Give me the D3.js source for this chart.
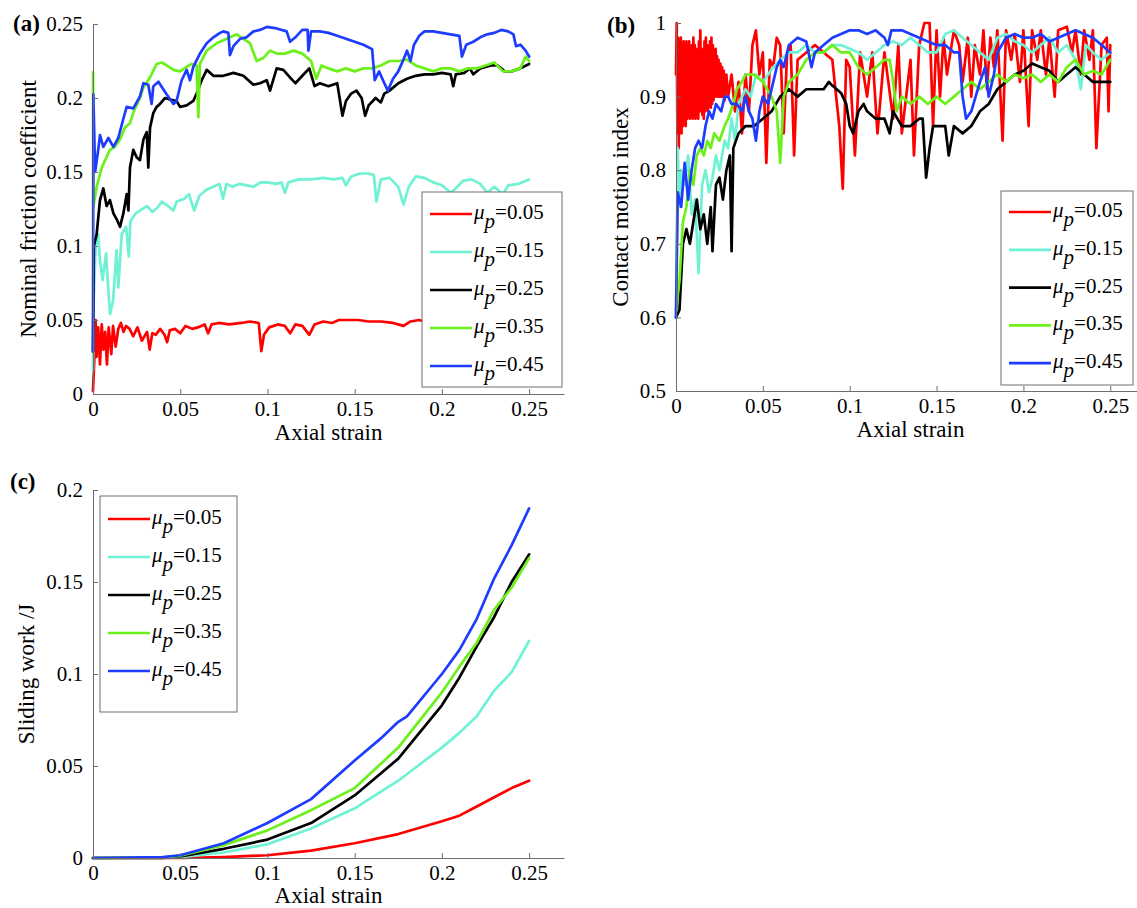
<!DOCTYPE html>
<html lang="en">
<head>
<meta charset="utf-8">
<title>Friction, contact motion and sliding work versus axial strain</title>
<script src="https://d3js.org/d3.v7.min.js"></script>
<style>
    html, body { margin: 0; padding: 0; background: #fff; }
    svg { display: block; }
    svg text { font-family: "Liberation Serif", "Times New Roman", Times, "DejaVu Serif", serif; }
    .axis path, .axis line { stroke: #6e6e6e; stroke-width: 1px; }
    .axis text { fill: #000; font-size: 21px; }
    .title { font-size: 23px; fill: #000; }
    .tag { font-size: 23px; font-weight: bold; fill: #000; }
    .legend text { font-size: 21px; fill: #000; }
    .curve { fill: none; stroke-width: 2.7px; stroke-linejoin: round; stroke-linecap: round; }
</style>
</head>
<body>
<script>
    // ---------- shared ----------
    var legendLabels = ["0.05", "0.15", "0.25", "0.35", "0.45"];
    var seriesColors = ["#ff0000", "#6ff2d4", "#000000", "#6cf01a", "#1e3cff"];
    var xTicks = [0, 0.05, 0.1, 0.15, 0.2, 0.25];
    var yTicksA = [0, 0.05, 0.1, 0.15, 0.2, 0.25];
    var yTicksB = [0.5, 0.6, 0.7, 0.8, 0.9, 1];
    var yTicksC = [0, 0.05, 0.1, 0.15, 0.2];

    // ---------- (a) nominal friction coefficient, [axial strain, value] ----------
    var fricMu005 = [[0,0.002],[0.001,0.03],[0.0015,0.05],[0.002,0.025],[0.003,0.045],[0.004,0.02],[0.005,0.047],[0.006,0.03],[0.007,0.042],[0.008,0.02],[0.009,0.045],[0.0105,0.027],[0.0115,0.046],[0.013,0.032],[0.0145,0.044],[0.016,0.048],[0.0175,0.042],[0.019,0.046],[0.021,0.044],[0.023,0.039],[0.0255,0.045],[0.028,0.036],[0.031,0.042],[0.0325,0.03],[0.034,0.041],[0.036,0.04],[0.0385,0.044],[0.041,0.04],[0.0425,0.035],[0.044,0.043],[0.047,0.044],[0.05,0.041],[0.053,0.046],[0.057,0.044],[0.06,0.045],[0.064,0.047],[0.066,0.041],[0.068,0.047],[0.072,0.048],[0.078,0.047],[0.085,0.048],[0.09,0.049],[0.095,0.048],[0.0965,0.029],[0.098,0.04],[0.101,0.045],[0.106,0.047],[0.11,0.046],[0.113,0.041],[0.116,0.047],[0.12,0.046],[0.124,0.04],[0.127,0.047],[0.132,0.049],[0.137,0.048],[0.141,0.05],[0.146,0.05],[0.152,0.05],[0.158,0.049],[0.165,0.049],[0.172,0.048],[0.178,0.046],[0.182,0.049],[0.187,0.05],[0.193,0.048],[0.2,0.049],[0.21,0.049],[0.22,0.05],[0.23,0.049],[0.24,0.05],[0.25,0.05]];
    var fricMu015 = [[0,0.016],[0.0003,0.06],[0.0015,0.1],[0.003,0.108],[0.004,0.09],[0.0055,0.077],[0.0075,0.095],[0.0085,0.075],[0.0098,0.054],[0.0115,0.063],[0.0135,0.097],[0.0145,0.072],[0.0165,0.108],[0.019,0.113],[0.0205,0.093],[0.0215,0.117],[0.0245,0.122],[0.027,0.124],[0.031,0.127],[0.034,0.123],[0.037,0.126],[0.0395,0.13],[0.043,0.127],[0.046,0.124],[0.048,0.13],[0.0525,0.132],[0.055,0.135],[0.058,0.124],[0.061,0.134],[0.065,0.138],[0.069,0.14],[0.0725,0.142],[0.0745,0.132],[0.0765,0.142],[0.08,0.14],[0.084,0.142],[0.088,0.141],[0.092,0.14],[0.096,0.143],[0.1,0.143],[0.105,0.142],[0.108,0.143],[0.11,0.136],[0.112,0.143],[0.118,0.145],[0.125,0.145],[0.132,0.146],[0.138,0.145],[0.143,0.146],[0.145,0.141],[0.148,0.147],[0.153,0.149],[0.158,0.149],[0.161,0.148],[0.1625,0.13],[0.165,0.145],[0.17,0.146],[0.175,0.14],[0.178,0.128],[0.181,0.14],[0.185,0.147],[0.19,0.146],[0.195,0.143],[0.2,0.141],[0.205,0.136],[0.208,0.139],[0.212,0.144],[0.217,0.145],[0.222,0.142],[0.226,0.136],[0.23,0.14],[0.235,0.135],[0.238,0.141],[0.244,0.142],[0.25,0.145]];
    var fricMu025 = [[0,0.029],[0.0005,0.1],[0.0021,0.108],[0.004,0.131],[0.0059,0.139],[0.0078,0.127],[0.0097,0.131],[0.0117,0.122],[0.0136,0.118],[0.0155,0.113],[0.0174,0.122],[0.0193,0.135],[0.0203,0.124],[0.0212,0.153],[0.0231,0.165],[0.025,0.16],[0.0269,0.158],[0.0289,0.172],[0.0308,0.177],[0.0317,0.153],[0.0327,0.18],[0.0346,0.19],[0.0365,0.194],[0.0384,0.196],[0.0413,0.2],[0.0441,0.199],[0.0479,0.198],[0.0499,0.194],[0.0537,0.195],[0.0575,0.198],[0.0594,0.203],[0.0623,0.212],[0.0652,0.219],[0.069,0.215],[0.0747,0.215],[0.0805,0.217],[0.0862,0.215],[0.0919,0.209],[0.0957,0.21],[0.0996,0.212],[0.1015,0.205],[0.1053,0.22],[0.1091,0.219],[0.1129,0.214],[0.116,0.21],[0.12,0.215],[0.124,0.22],[0.127,0.208],[0.13,0.21],[0.135,0.208],[0.14,0.21],[0.143,0.188],[0.145,0.198],[0.148,0.203],[0.151,0.205],[0.154,0.2],[0.156,0.188],[0.158,0.195],[0.162,0.2],[0.165,0.197],[0.167,0.203],[0.17,0.205],[0.175,0.21],[0.18,0.213],[0.185,0.215],[0.19,0.216],[0.195,0.216],[0.2,0.217],[0.205,0.216],[0.2065,0.208],[0.208,0.216],[0.213,0.217],[0.216,0.22],[0.218,0.216],[0.222,0.22],[0.228,0.222],[0.232,0.222],[0.236,0.218],[0.24,0.218],[0.245,0.22],[0.25,0.223]];
    var fricMu035 = [[0,0.2175],[0.0003,0.127],[0.0021,0.14],[0.005,0.153],[0.0078,0.16],[0.0097,0.165],[0.0126,0.167],[0.0155,0.172],[0.0183,0.18],[0.0212,0.183],[0.0231,0.19],[0.0269,0.2],[0.0289,0.207],[0.0327,0.214],[0.0365,0.223],[0.0394,0.224],[0.0422,0.222],[0.0461,0.219],[0.0499,0.218],[0.0537,0.221],[0.0565,0.223],[0.0594,0.222],[0.0604,0.187],[0.0613,0.223],[0.0652,0.232],[0.0709,0.237],[0.0766,0.24],[0.0824,0.243],[0.0862,0.24],[0.0900,0.237],[0.0938,0.225],[0.0976,0.227],[0.1015,0.232],[0.1053,0.23],[0.11,0.23],[0.115,0.232],[0.12,0.23],[0.125,0.225],[0.128,0.213],[0.131,0.222],[0.135,0.22],[0.14,0.218],[0.145,0.22],[0.15,0.218],[0.155,0.22],[0.16,0.22],[0.165,0.222],[0.17,0.225],[0.175,0.225],[0.18,0.226],[0.185,0.222],[0.19,0.22],[0.195,0.218],[0.2,0.22],[0.205,0.22],[0.21,0.218],[0.215,0.22],[0.22,0.22],[0.225,0.222],[0.23,0.224],[0.235,0.218],[0.24,0.218],[0.245,0.22],[0.248,0.228],[0.25,0.225]];
    var fricMu045 = [[0,0.0286],[0.0002,0.2025],[0.0012,0.15],[0.003,0.165],[0.004,0.175],[0.0059,0.167],[0.0088,0.173],[0.0117,0.167],[0.0145,0.173],[0.0174,0.186],[0.0193,0.194],[0.0231,0.193],[0.0269,0.201],[0.0289,0.21],[0.0317,0.209],[0.0336,0.196],[0.0346,0.208],[0.0375,0.211],[0.0413,0.204],[0.0461,0.196],[0.0479,0.198],[0.0508,0.212],[0.0537,0.219],[0.0556,0.212],[0.0575,0.221],[0.0613,0.23],[0.0652,0.237],[0.069,0.241],[0.0728,0.244],[0.0747,0.245],[0.0776,0.244],[0.0785,0.229],[0.0805,0.235],[0.0843,0.24],[0.088,0.241],[0.092,0.245],[0.0957,0.246],[0.0996,0.248],[0.1053,0.247],[0.111,0.245],[0.113,0.238],[0.116,0.241],[0.12,0.246],[0.123,0.246],[0.1235,0.232],[0.125,0.245],[0.13,0.245],[0.135,0.244],[0.14,0.242],[0.145,0.24],[0.15,0.238],[0.155,0.236],[0.16,0.233],[0.1615,0.212],[0.164,0.218],[0.167,0.21],[0.169,0.205],[0.172,0.213],[0.175,0.218],[0.178,0.226],[0.18,0.232],[0.182,0.225],[0.184,0.236],[0.187,0.242],[0.19,0.245],[0.195,0.245],[0.2,0.244],[0.205,0.243],[0.21,0.242],[0.2115,0.228],[0.214,0.236],[0.218,0.238],[0.222,0.241],[0.226,0.243],[0.23,0.244],[0.234,0.246],[0.238,0.245],[0.241,0.243],[0.2425,0.235],[0.245,0.236],[0.248,0.232],[0.25,0.228]];

    // ---------- (b) contact motion index ----------
    var motionMu005 = [[0,0.93],[0.0004,1.0],[0.0008,0.85],[0.0012,0.98],[0.0016,0.83],[0.002,0.97],[0.0024,0.86],[0.0028,0.98],[0.0032,0.85],[0.0036,0.97],[0.004,0.86],[0.0044,0.975],[0.0048,0.87],[0.0052,0.97],[0.0056,0.86],[0.006,0.975],[0.0064,0.87],[0.0068,0.97],[0.0072,0.88],[0.0076,0.975],[0.008,0.87],[0.0084,0.965],[0.0088,0.875],[0.0092,0.97],[0.0096,0.87],[0.01,0.98],[0.0104,0.875],[0.0108,0.97],[0.0112,0.87],[0.0116,0.965],[0.012,0.88],[0.0124,0.96],[0.0128,0.87],[0.0132,0.975],[0.0136,0.88],[0.014,0.99],[0.0144,0.88],[0.0148,0.965],[0.0152,0.875],[0.0156,0.96],[0.016,0.87],[0.0164,0.975],[0.0168,0.88],[0.0172,0.98],[0.0176,0.885],[0.018,0.97],[0.0184,0.88],[0.0188,0.96],[0.0192,0.89],[0.0196,0.975],[0.02,0.885],[0.0204,0.98],[0.0208,0.89],[0.0212,0.97],[0.0216,0.895],[0.022,0.96],[0.0224,0.9],[0.0228,0.965],[0.0232,0.9],[0.0236,0.955],[0.024,0.9],[0.0245,0.95],[0.025,0.9],[0.0255,0.945],[0.026,0.9],[0.0265,0.94],[0.027,0.9],[0.0275,0.935],[0.028,0.895],[0.029,0.93],[0.03,0.9],[0.032,0.93],[0.034,0.88],[0.036,0.92],[0.038,0.85],[0.04,0.93],[0.042,0.88],[0.044,0.97],[0.046,0.99],[0.048,0.93],[0.05,0.96],[0.052,0.81],[0.054,0.95],[0.056,0.94],[0.058,0.98],[0.06,0.97],[0.062,0.85],[0.064,0.96],[0.066,0.97],[0.068,0.82],[0.07,0.95],[0.075,0.96],[0.08,0.97],[0.085,0.96],[0.09,0.95],[0.094,0.86],[0.096,0.775],[0.098,0.95],[0.1,0.94],[0.103,0.82],[0.106,0.96],[0.11,0.9],[0.113,0.96],[0.116,0.85],[0.12,0.96],[0.125,0.87],[0.128,0.97],[0.13,0.85],[0.135,0.95],[0.137,0.82],[0.14,0.97],[0.143,1.0],[0.146,1.0],[0.148,0.86],[0.15,0.99],[0.152,0.9],[0.154,0.98],[0.156,0.93],[0.16,0.99],[0.163,0.97],[0.165,0.92],[0.168,0.98],[0.17,0.9],[0.172,0.97],[0.175,0.93],[0.177,0.99],[0.179,0.91],[0.181,0.98],[0.183,0.94],[0.185,0.99],[0.188,0.84],[0.19,0.99],[0.193,0.95],[0.195,0.985],[0.198,0.92],[0.2,0.99],[0.203,0.86],[0.205,0.99],[0.208,0.95],[0.21,0.99],[0.213,0.93],[0.215,0.98],[0.218,0.9],[0.22,0.99],[0.225,0.995],[0.228,0.96],[0.23,0.99],[0.233,0.93],[0.235,0.99],[0.238,0.95],[0.24,0.99],[0.242,0.83],[0.245,0.97],[0.248,0.98],[0.249,0.88],[0.25,0.97]];
    var motionMu015 = [[0,0.6],[0.001,0.83],[0.002,0.75],[0.003,0.8],[0.005,0.78],[0.007,0.82],[0.009,0.74],[0.011,0.76],[0.013,0.66],[0.015,0.78],[0.017,0.8],[0.019,0.77],[0.021,0.79],[0.023,0.82],[0.025,0.8],[0.028,0.84],[0.03,0.83],[0.032,0.87],[0.034,0.84],[0.036,0.89],[0.038,0.9],[0.04,0.91],[0.043,0.9],[0.046,0.93],[0.05,0.92],[0.053,0.93],[0.056,0.94],[0.06,0.95],[0.065,0.96],[0.07,0.96],[0.075,0.97],[0.08,0.96],[0.085,0.96],[0.09,0.97],[0.095,0.97],[0.1,0.965],[0.105,0.96],[0.11,0.95],[0.115,0.96],[0.12,0.97],[0.125,0.975],[0.13,0.97],[0.135,0.98],[0.14,0.97],[0.145,0.96],[0.15,0.96],[0.155,0.985],[0.16,0.99],[0.165,0.98],[0.17,0.97],[0.175,0.96],[0.18,0.95],[0.185,0.98],[0.19,0.985],[0.195,0.975],[0.2,0.97],[0.205,0.96],[0.21,0.97],[0.215,0.98],[0.22,0.96],[0.225,0.97],[0.23,0.95],[0.233,0.91],[0.236,0.97],[0.24,0.96],[0.245,0.95],[0.25,0.96]];
    var motionMu025 = [[0,0.6],[0.002,0.61],[0.004,0.7],[0.006,0.72],[0.008,0.7],[0.01,0.73],[0.012,0.76],[0.014,0.72],[0.016,0.74],[0.018,0.7],[0.02,0.75],[0.021,0.69],[0.023,0.78],[0.025,0.79],[0.027,0.76],[0.029,0.8],[0.031,0.82],[0.032,0.69],[0.033,0.83],[0.036,0.85],[0.04,0.86],[0.045,0.86],[0.05,0.87],[0.055,0.88],[0.06,0.9],[0.065,0.91],[0.07,0.9],[0.075,0.91],[0.08,0.91],[0.085,0.91],[0.088,0.92],[0.09,0.915],[0.095,0.905],[0.098,0.89],[0.1,0.86],[0.102,0.85],[0.105,0.88],[0.108,0.89],[0.11,0.88],[0.115,0.87],[0.12,0.87],[0.123,0.85],[0.125,0.88],[0.13,0.86],[0.135,0.86],[0.14,0.87],[0.142,0.87],[0.144,0.79],[0.146,0.83],[0.148,0.86],[0.15,0.86],[0.155,0.86],[0.157,0.82],[0.16,0.86],[0.165,0.85],[0.17,0.86],[0.175,0.88],[0.18,0.89],[0.185,0.91],[0.19,0.92],[0.195,0.93],[0.2,0.935],[0.205,0.945],[0.21,0.94],[0.215,0.935],[0.22,0.92],[0.225,0.93],[0.23,0.94],[0.235,0.93],[0.24,0.92],[0.245,0.92],[0.25,0.92]];
    var motionMu035 = [[0,0.61],[0.002,0.65],[0.004,0.73],[0.006,0.75],[0.008,0.8],[0.01,0.78],[0.012,0.82],[0.014,0.83],[0.016,0.82],[0.018,0.84],[0.02,0.83],[0.022,0.85],[0.025,0.84],[0.028,0.86],[0.03,0.87],[0.033,0.89],[0.035,0.91],[0.038,0.92],[0.04,0.93],[0.045,0.93],[0.05,0.92],[0.055,0.9],[0.058,0.88],[0.06,0.81],[0.062,0.9],[0.065,0.92],[0.07,0.93],[0.075,0.95],[0.08,0.96],[0.085,0.96],[0.09,0.97],[0.095,0.96],[0.1,0.96],[0.105,0.94],[0.11,0.93],[0.115,0.94],[0.12,0.95],[0.123,0.95],[0.125,0.92],[0.127,0.88],[0.13,0.9],[0.135,0.89],[0.14,0.9],[0.145,0.89],[0.15,0.9],[0.155,0.89],[0.16,0.9],[0.165,0.91],[0.17,0.92],[0.175,0.91],[0.18,0.92],[0.185,0.93],[0.19,0.92],[0.195,0.93],[0.2,0.925],[0.205,0.93],[0.21,0.92],[0.215,0.93],[0.22,0.92],[0.225,0.94],[0.23,0.95],[0.235,0.93],[0.24,0.935],[0.245,0.93],[0.25,0.95]];
    var motionMu045 = [[0,0.6],[0.001,0.77],[0.003,0.75],[0.005,0.81],[0.007,0.76],[0.009,0.8],[0.011,0.83],[0.013,0.84],[0.015,0.83],[0.017,0.86],[0.019,0.88],[0.021,0.87],[0.023,0.89],[0.026,0.88],[0.028,0.9],[0.03,0.9],[0.032,0.89],[0.035,0.89],[0.038,0.88],[0.04,0.9],[0.042,0.88],[0.044,0.87],[0.046,0.84],[0.048,0.88],[0.05,0.9],[0.053,0.89],[0.056,0.92],[0.058,0.94],[0.06,0.95],[0.062,0.94],[0.065,0.97],[0.07,0.98],[0.075,0.975],[0.078,0.94],[0.08,0.96],[0.085,0.97],[0.09,0.98],[0.095,0.985],[0.1,0.99],[0.105,0.99],[0.11,0.985],[0.115,0.99],[0.12,0.98],[0.122,0.97],[0.124,0.99],[0.13,0.99],[0.135,0.985],[0.14,0.98],[0.145,0.975],[0.15,0.97],[0.155,0.97],[0.16,0.96],[0.163,0.96],[0.165,0.9],[0.167,0.87],[0.17,0.88],[0.175,0.92],[0.178,0.94],[0.18,0.9],[0.183,0.93],[0.185,0.96],[0.19,0.98],[0.195,0.985],[0.2,0.98],[0.205,0.98],[0.21,0.985],[0.215,0.975],[0.22,0.98],[0.225,0.985],[0.23,0.99],[0.235,0.985],[0.24,0.98],[0.245,0.97],[0.25,0.96]];

    // ---------- (c) sliding work (J) ----------
    var workMu005 = [[0,0],[0.05,0],[0.075,0.0005],[0.1,0.0015],[0.125,0.004],[0.15,0.008],[0.175,0.013],[0.2,0.02],[0.21,0.023],[0.22,0.028],[0.23,0.033],[0.24,0.038],[0.25,0.042]];
    var workMu015 = [[0,0],[0.04,0],[0.05,0.0005],[0.075,0.003],[0.1,0.0075],[0.125,0.016],[0.15,0.027],[0.175,0.042],[0.2,0.06],[0.21,0.068],[0.22,0.077],[0.23,0.091],[0.24,0.101],[0.25,0.118]];
    var workMu025 = [[0,0],[0.04,0],[0.05,0.0008],[0.075,0.005],[0.1,0.01],[0.125,0.019],[0.15,0.034],[0.175,0.054],[0.2,0.083],[0.21,0.098],[0.22,0.115],[0.23,0.131],[0.24,0.15],[0.25,0.165]];
    var workMu035 = [[0,0],[0.04,0.0003],[0.05,0.0012],[0.075,0.007],[0.1,0.015],[0.125,0.026],[0.15,0.038],[0.175,0.06],[0.2,0.09],[0.21,0.104],[0.22,0.117],[0.23,0.135],[0.24,0.147],[0.25,0.163]];
    var workMu045 = [[0,0],[0.04,0.0005],[0.05,0.0015],[0.075,0.008],[0.1,0.019],[0.125,0.032],[0.15,0.053],[0.165,0.065],[0.175,0.074],[0.18,0.077],[0.2,0.1],[0.21,0.113],[0.22,0.13],[0.23,0.152],[0.24,0.17],[0.25,0.19]];

    // ---------- layout ----------
    var panels = [
        { tag: "(a)", tagX: 13, tagY: 31, left: 93, top: 24, width: 471, height: 370,
          yDomain: [0, 0.25], yTicks: yTicksA, yTitle: "Nominal friction coefficient", yTitleX: 36, xTitleY: 440,
          series: [fricMu005, fricMu015, fricMu025, fricMu035, fricMu045],
          legend: { x: 329, y: 168, w: 140, h: 195, first: 22, step: 38 } },
        { tag: "(b)", tagX: 607, tagY: 33, left: 676, top: 23, width: 469, height: 368,
          yDomain: [0.5, 1], yTicks: yTicksB, yTitle: "Contact motion index", yTitleX: 628, xTitleY: 437,
          series: [motionMu005, motionMu015, motionMu025, motionMu035, motionMu045],
          legend: { x: 325, y: 168, w: 132, h: 194, first: 21, step: 37.8 } },
        { tag: "(c)", tagX: 10, tagY: 489, left: 93, top: 490, width: 471, height: 368,
          yDomain: [0, 0.2], yTicks: yTicksC, yTitle: "Sliding work /J", yTitleX: 34, xTitleY: 903,
          series: [workMu005, workMu015, workMu025, workMu035, workMu045],
          legend: { x: 7, y: 6, w: 137, h: 216, first: 23, step: 38 } }
    ];

    var svg = d3.select("body").append("svg")
        .attr("width", 1137)
        .attr("height", 908);

    // MATLAB style labels: 0, 0.05, 0.1 ...
    function fmt(d) {
        return String(+d.toFixed(2));
    }

    panels.forEach(function(p) {
        var x = d3.scaleLinear().domain([0, 0.27]).range([0, p.width]);
        var y = d3.scaleLinear().domain(p.yDomain).range([p.height, 0]);

        var g = svg.append("g")
            .attr("transform", "translate(" + p.left + "," + p.top + ")");

        var line = d3.line()
            .x(function(d) { return x(d[0]); })
            .y(function(d) { return y(d[1]); });

        // curves, drawn in legend order
        g.selectAll("path.curve")
            .data(p.series)
            .enter().append("path")
            .attr("class", "curve")
            .attr("stroke", function(d, i) { return seriesColors[i]; })
            .attr("d", line);

        // axes, ticks point inward
        g.append("g")
            .attr("class", "axis")
            .attr("transform", "translate(0," + p.height + ")")
            .call(d3.axisBottom(x).tickValues(xTicks).tickFormat(fmt)
                .tickSizeInner(-5).tickSizeOuter(0).tickPadding(7))
            .attr("font-family", null)
            .attr("font-size", null);

        g.append("g")
            .attr("class", "axis")
            .call(d3.axisLeft(y).tickValues(p.yTicks).tickFormat(fmt)
                .tickSizeInner(-5).tickSizeOuter(0).tickPadding(10))
            .attr("font-family", null)
            .attr("font-size", null);

        // legend box
        var lg = g.append("g")
            .attr("class", "legend")
            .attr("transform", "translate(" + p.legend.x + "," + p.legend.y + ")");

        lg.append("rect")
            .attr("width", p.legend.w)
            .attr("height", p.legend.h)
            .attr("fill", "#fff")
            .attr("stroke", "#6e6e6e");

        var item = lg.selectAll("g.item")
            .data(legendLabels)
            .enter().append("g")
            .attr("class", "item")
            .attr("transform", function(d, i) {
                return "translate(0," + (p.legend.first + i * p.legend.step) + ")";
            });

        item.append("line")
            .attr("x1", 8).attr("x2", 50)
            .attr("stroke", function(d, i) { return seriesColors[i]; })
            .attr("stroke-width", 2.7);

        var t = item.append("text")
            .attr("x", 52)
            .attr("y", 5);
        t.append("tspan").attr("font-style", "italic").text("\u03bc");
        t.append("tspan").attr("font-style", "italic").attr("dy", 9).text("p");
        t.append("tspan").attr("dy", -9).text(function(d) { return "=" + d; });

        // titles
        g.append("text")
            .attr("class", "title")
            .attr("text-anchor", "middle")
            .attr("x", p.width * 0.5)
            .attr("y", p.xTitleY - p.top)
            .text("Axial strain");

        svg.append("text")
            .attr("class", "title")
            .attr("text-anchor", "middle")
            .attr("transform", "translate(" + p.yTitleX + "," + (p.top + p.height / 2) + ") rotate(-90)")
            .text(p.yTitle);

        svg.append("text")
            .attr("class", "tag")
            .attr("x", p.tagX)
            .attr("y", p.tagY)
            .text(p.tag);
    });
</script>
</body>
</html>
